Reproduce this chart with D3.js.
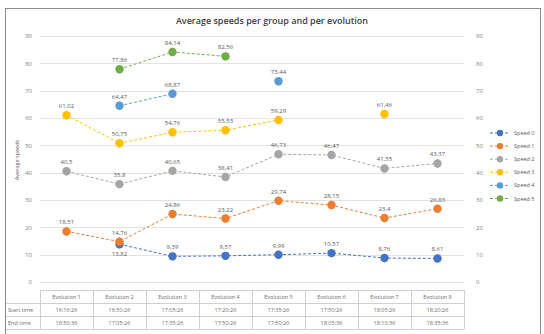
<!DOCTYPE html>
<html><head><meta charset="utf-8">
<script src="https://cdn.jsdelivr.net/npm/d3@7"></script>
<style>
body{margin:0;background:#fff;}
svg{font-family:"Open Sans","Liberation Sans",sans-serif;}
</style></head>
<body><svg id="c" width="544" height="334"></svg>
<script>
const categories = ["Evolution 1","Evolution 2","Evolution 3","Evolution 4","Evolution 5","Evolution 6","Evolution 7","Evolution 8"];
const seriesNames = ["Speed 0","Speed 1","Speed 2","Speed 3","Speed 4","Speed 5"];
const speed0 = [null, 13.82, 9.39, 9.57, 9.99, 10.57, 8.76, 8.61];
const speed1 = [18.51, 14.76, 24.86, 23.22, 29.74, 28.15, 23.4, 26.83];
const speed2 = [40.5, 35.8, 40.65, 38.41, 46.73, 46.47, 41.55, 43.37];
const speed3 = [61.02, 50.75, 54.76, 55.53, 59.29, null, 61.46, null];
const speed4 = [null, 64.47, 68.87, null, 73.44, null, null, null];
const speed5 = [null, 77.86, 84.14, 82.56, null, null, null, null];
const startTimes = ["16:16:26","16:50:26","17:05:26","17:20:26","17:35:26","17:50:26","18:05:26","18:20:26"];
const endTimes = ["16:50:36","17:05:26","17:35:26","17:50:26","17:50:26","18:05:36","18:10:36","18:35:36"];
const yTicks = [0,10,20,30,40,50,60,70,80,90];
const errorAmount = 1.5;

const colors = ["#4472C4","#ED7D31","#A5A5A5","#FFC000","#5B9BD5","#70AD47"];
const allSeries = [speed0,speed1,speed2,speed3,speed4,speed5];

const svg = d3.select("#c");
// chart frame
svg.append("rect").attr("x",5.5).attr("y",8.5).attr("width",535).attr("height",330)
  .attr("fill","#fff").attr("stroke","#8c8c8c").attr("stroke-width",1);

const x = d3.scaleBand().domain(categories).range([40,464]);
const y = d3.scaleLinear().domain([0,90]).range([282,36]);
const cx = c => x(c) + x.bandwidth()/2;

// title
svg.append("text").attr("x",272).attr("y",24).attr("text-anchor","middle")
  .attr("font-size",9).attr("font-weight",600).attr("fill","#404040")
  .text("Average speeds per group and per evolution");

// gridlines
svg.append("g").selectAll("line").data(yTicks).join("line")
  .attr("x1",40).attr("x2",464).attr("y1",d=>Math.round(y(d))+0.5).attr("y2",d=>Math.round(y(d))+0.5)
  .attr("stroke","#e3e3e3").attr("stroke-width",1);

// axes
const leftAxis = d3.axisLeft(y).tickValues(yTicks).tickSize(0).tickPadding(8);
const gl = svg.append("g").attr("transform","translate(40,0)").call(leftAxis);
const rightAxis = d3.axisRight(y).tickValues(yTicks).tickSize(0).tickPadding(12);
const gr = svg.append("g").attr("transform","translate(464,0)").call(rightAxis);
[gl,gr].forEach(g=>{
  g.select(".domain").remove();
  g.selectAll("text").attr("font-size",6).attr("fill","#808080").attr("font-family","Open Sans, sans-serif");
});

// y axis title
svg.append("text").attr("transform","translate(19,160) rotate(-90)").attr("text-anchor","middle")
  .attr("font-size",5.5).attr("fill","#595959").text("Average speeds");

// series lines
const line = d3.line().defined(d=>d.v!=null).x(d=>cx(d.c)).y(d=>y(d.v));
allSeries.forEach((s,i)=>{
  const pts = s.map((v,j)=>({c:categories[j],v}));
  svg.append("path").datum(pts).attr("d",line).attr("fill","none")
    .attr("stroke",colors[i]).attr("stroke-width",1).attr("stroke-dasharray","3,2");
});

// error bars
allSeries.forEach((s,i)=>{
  const pts = s.map((v,j)=>({c:categories[j],v})).filter(d=>d.v!=null);
  const g = svg.append("g");
  g.selectAll("line").data(pts).join("line")
    .attr("x1",d=>cx(d.c)).attr("x2",d=>cx(d.c))
    .attr("y1",d=>y(d.v-errorAmount)).attr("y2",d=>y(d.v+errorAmount))
    .attr("stroke","#7f7f7f").attr("stroke-width",0.8);
});

// markers
allSeries.forEach((s,i)=>{
  const pts = s.map((v,j)=>({c:categories[j],v})).filter(d=>d.v!=null);
  svg.append("g").selectAll("circle").data(pts).join("circle")
    .attr("cx",d=>cx(d.c)).attr("cy",d=>y(d.v)).attr("r",4.2)
    .attr("fill",colors[i]);
});

// data labels
allSeries.forEach((s,i)=>{
  const pts = s.map((v,j)=>({c:categories[j],v,j})).filter(d=>d.v!=null);
  svg.append("g").selectAll("text").data(pts).join("text")
    .attr("x",d=>cx(d.c))
    .attr("y",d=>{
      // place below if another series point sits just above
      const clash = allSeries.some((o,k)=>k!==i && o[d.j]!=null && o[d.j]>d.v && y(d.v)-y(o[d.j])<14);
      return clash ? y(d.v)+12 : y(d.v)-7;
    })
    .attr("text-anchor","middle").attr("font-size",6).attr("fill","#595959")
    .text(d=>String(d.v).replace(".",","));
});

// legend
const lg = svg.append("g");
seriesNames.forEach((n,i)=>{
  const ly = 133 + i*13.1;
  lg.append("line").attr("x1",490).attr("x2",510).attr("y1",ly).attr("y2",ly)
    .attr("stroke",colors[i]).attr("stroke-width",1).attr("stroke-dasharray","3,2");
  lg.append("circle").attr("cx",500).attr("cy",ly).attr("r",3.2).attr("fill",colors[i]);
  lg.append("text").attr("x",514).attr("y",ly+2).attr("font-size",5.5).attr("fill","#595959").text(n);
});

// data table
const tbl = svg.append("g");
const rowTop = [290,303,316,329];
const bc = "#d0d0d0";
// horizontal lines
tbl.append("line").attr("x1",40).attr("x2",464).attr("y1",rowTop[0]+0.5).attr("y2",rowTop[0]+0.5).attr("stroke",bc);
[1,2,3].forEach(r=>tbl.append("line").attr("x1",6).attr("x2",464).attr("y1",rowTop[r]+0.5).attr("y2",rowTop[r]+0.5).attr("stroke",bc));
// vertical lines
categories.forEach(c=>{
  tbl.append("line").attr("x1",Math.round(x(c))+0.5).attr("x2",Math.round(x(c))+0.5).attr("y1",rowTop[0]).attr("y2",rowTop[3]).attr("stroke",bc);
});
tbl.append("line").attr("x1",464.5).attr("x2",464.5).attr("y1",rowTop[0]).attr("y2",rowTop[3]).attr("stroke",bc);
const tf = {size:5.5, fill:"#6b6b6b"};
categories.forEach((c,j)=>{
  tbl.append("text").attr("x",cx(c)).attr("y",rowTop[0]+9).attr("text-anchor","middle").attr("font-size",tf.size).attr("fill",tf.fill).text(c);
  tbl.append("text").attr("x",cx(c)).attr("y",rowTop[1]+9).attr("text-anchor","middle").attr("font-size",tf.size).attr("fill",tf.fill).text(startTimes[j]);
  tbl.append("text").attr("x",cx(c)).attr("y",rowTop[2]+9).attr("text-anchor","middle").attr("font-size",tf.size).attr("fill",tf.fill).text(endTimes[j]);
});
tbl.append("text").attr("x",8).attr("y",rowTop[1]+9).attr("font-size",tf.size).attr("fill",tf.fill).text("Start time");
tbl.append("text").attr("x",8).attr("y",rowTop[2]+9).attr("font-size",tf.size).attr("fill",tf.fill).text("End time");
</script></body></html>
